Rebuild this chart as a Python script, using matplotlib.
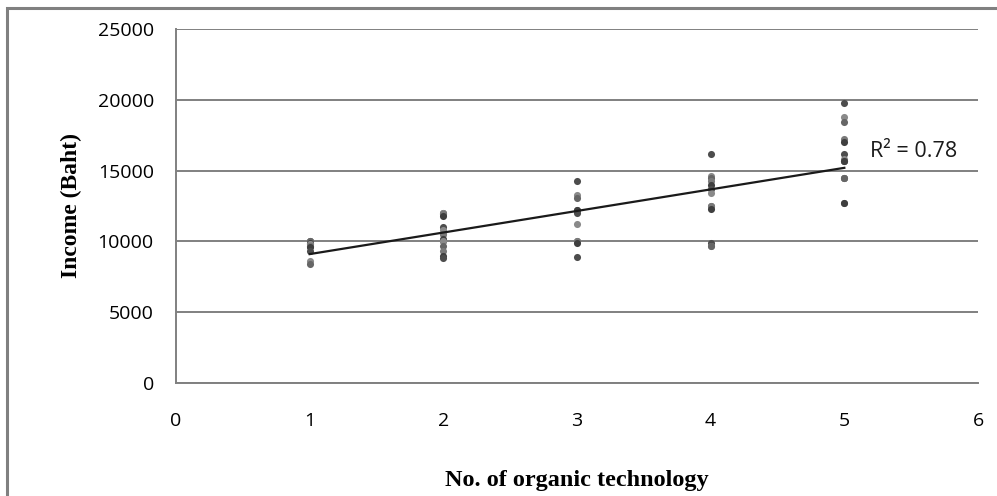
import numpy as np
import matplotlib.pyplot as plt
from matplotlib.patches import Rectangle

# Household income (Baht) by number of organic technologies adopted
tech_1 = [10000, 10000, 10000, 9900, 9900, 9800, 9800, 9700, 9700, 9600, 9300, 8600, 8400]
tech_2 = [12000, 12000, 11900, 11900, 11800, 11000, 10800, 10500, 10500, 10200,
          10000, 10000, 9700, 9300, 9000, 8800]
tech_3 = [14300, 13300, 13100, 12200, 12200, 12000, 11200, 10000, 10000, 9900, 8900]
tech_4 = [16200, 14600, 14500, 14300, 14000, 13700, 13400, 12500, 12500, 12300,
          9900, 9700, 9700]
tech_5 = [19800, 18800, 18400, 17200, 17000, 16200, 15800, 15700, 15700, 15700,
          14500, 14500, 14500, 12700, 12700]
groups = [tech_1, tech_2, tech_3, tech_4, tech_5]
r2_label = "R² = 0.78"

x_ticks = [0, 1, 2, 3, 4, 5, 6]
y_ticks = [0, 5000, 10000, 15000, 20000, 25000]

greys = ["#4d4d4d", "#8a8a8a", "#666666", "#7a7a7a", "#3f3f3f"]

fig = plt.figure(figsize=(9.97, 4.96), dpi=100)
ax = fig.add_axes([176 / 997, 1 - 383 / 496, (978 - 176) / 997, (383 - 29) / 496])

xs, ys = [], []
for n, vals in enumerate(groups, start=1):
    for i, v in enumerate(vals):
        ax.scatter(n, v, s=26, color=greys[i % len(greys)], zorder=3, linewidths=0)
        xs.append(n)
        ys.append(v)

# Linear trend line over the observed range
slope, intercept = np.polyfit(xs, ys, 1)
fx = np.array([1, 5])
ax.plot(fx, slope * fx + intercept, color="#1a1a1a", lw=1.6, zorder=4)

ax.text(5.19, 16350, r2_label, fontsize=15.5, family="Open Sans", color="#1a1a1a",
        va="center", ha="left")

ax.set_xlim(0, 6)
ax.set_ylim(0, 25000)
ax.set_xticks(x_ticks)
ax.set_yticks(y_ticks)
ax.set_xticklabels([str(t) for t in x_ticks], family="Open Sans", fontsize=14)
ax.set_yticklabels([str(t) for t in y_ticks], family="Open Sans", fontsize=14)
ax.tick_params(length=0)
ax.tick_params(axis="x", pad=21)
ax.tick_params(axis="y", pad=16)

ax.yaxis.grid(True, color="#808080", lw=1.4)
ax.set_axisbelow(True)
for side in ["top", "right"]:
    ax.spines[side].set_visible(False)
ax.spines["left"].set_color("#808080")
ax.spines["left"].set_linewidth(1.4)
ax.spines["bottom"].set_color("#808080")
ax.spines["bottom"].set_linewidth(1.4)

ax.set_ylabel("Income (Baht)", family="Liberation Serif", fontweight="bold", fontsize=17)
ax.yaxis.set_label_coords(-(176 - 82) / 802, 0.5)
ax.set_xlabel("No. of organic technology", family="Liberation Serif", fontweight="bold", fontsize=17.5)
ax.xaxis.set_label_coords(0.5, -(470 - 383) / 354)

# Outer frame of the chart
fig.patches.append(Rectangle((6.5 / 997, -0.05), 1.2, 1 - 8.5 / 496 + 0.05,
                             transform=fig.transFigure, fill=False,
                             edgecolor="#808080", lw=2.2))

fig.savefig("out.png", dpi=100)
